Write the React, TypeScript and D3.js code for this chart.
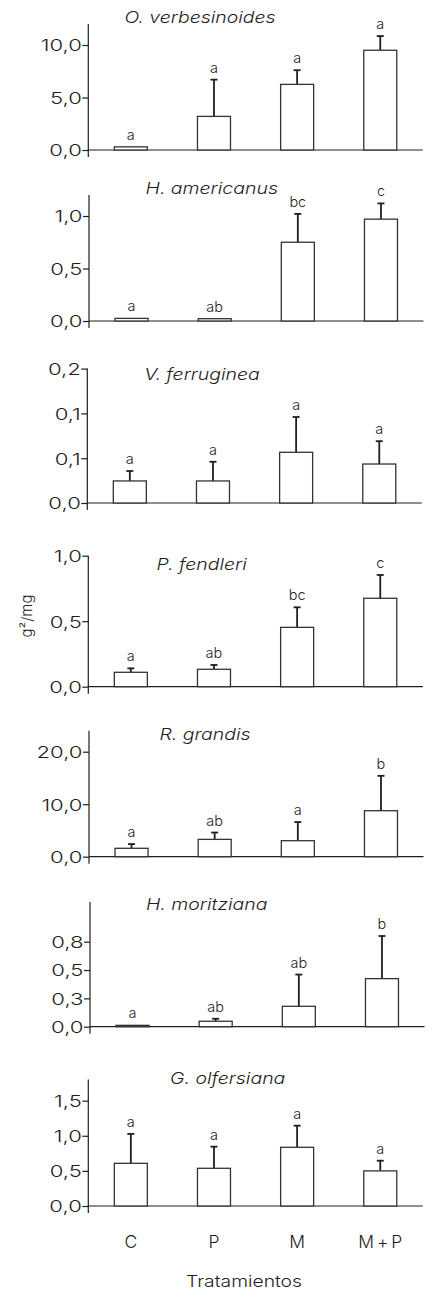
import React, { useEffect, useRef } from "react";
import * as d3 from "d3";

// ---- data ----
const treatments = ["C", "P", "M", "M+P"];
const species = [
  "O. verbesinoides",
  "H. americanus",
  "V. ferruginea",
  "P. fendleri",
  "R. grandis",
  "H. moritziana",
  "G. olfersiana",
];

const meanVerbesinoides = [0.3, 3.2, 6.25, 9.5];
const seVerbesinoides = [0, 3.5, 1.35, 1.35];
const meanAmericanus = [0.025, 0.022, 0.75, 0.97];
const seAmericanus = [0, 0, 0.27, 0.15];
const meanFerruginea = [0.0246, 0.0246, 0.0566, 0.0435];
const seFerruginea = [0.0111, 0.0214, 0.0394, 0.0255];
const meanFendleri = [0.11, 0.133, 0.453, 0.675];
const seFendleri = [0.03, 0.033, 0.153, 0.178];
const meanGrandis = [1.6, 3.3, 3.05, 8.76];
const seGrandis = [0.8, 1.3, 3.55, 6.64];
const meanMoritziana = [0.012, 0.048, 0.18, 0.424];
const seMoritziana = [0, 0.022, 0.28, 0.376];
const meanOlfersiana = [0.608, 0.537, 0.836, 0.5];
const seOlfersiana = [0.418, 0.308, 0.308, 0.145];

const letters = [
  ["a", "a", "a", "a"],
  ["a", "ab", "bc", "c"],
  ["a", "a", "a", "a"],
  ["a", "ab", "bc", "c"],
  ["a", "ab", "a", "b"],
  ["a", "ab", "ab", "b"],
  ["a", "a", "a", "a"],
];

const yMax = [12, 1.2, 0.15, 1.0, 24, 1.1, 1.8];
const tickValues = [
  [0, 5, 10],
  [0, 0.5, 1],
  [0, 0.05, 0.1, 0.15],
  [0, 0.5, 1],
  [0, 10, 20],
  [0, 0.25, 0.5, 0.75],
  [0, 0.5, 1, 1.5],
];
const tickLabels = [
  ["0,0", "5,0", "10,0"],
  ["0,0", "0,5", "1,0"],
  ["0,0", "0,1", "0,1", "0,2"],
  ["0,0", "0,5", "1,0"],
  ["0,0", "10,0", "20,0"],
  ["0,0", "0,3", "0,5", "0,8"],
  ["0,0", "0,5", "1,0", "1,5"],
];

const means = [meanVerbesinoides, meanAmericanus, meanFerruginea, meanFendleri, meanGrandis, meanMoritziana, meanOlfersiana];
const errors = [seVerbesinoides, seAmericanus, seFerruginea, seFendleri, seGrandis, seMoritziana, seOlfersiana];

// ---- layout (pixels) ----
const W = 432;
const H = 1291;
const panelBase = [150, 321, 503, 686.7, 856.7, 1026.7, 1206];
const panelTop = [24, 195, 368.6, 555.7, 730.7, 902, 1079.6];
const panelX0 = [88.3, 89, 87.3, 88.3, 89, 90, 88.3];
const titleX = [200, 211.7, 202, 201.7, 205, 206.7, 227.7];
const titleY = [23, 194, 380, 570, 740, 910, 1084];
const axisLen = 334.5;

const font = "Inter, 'Liberation Sans', sans-serif";
const ink = "#1e1e1e";

const App = () => {
  const svgRef = useRef<SVGSVGElement>(null);

  useEffect(() => {
    const svg = d3.select(svgRef.current);
    svg.selectAll("*").remove();

    species.forEach((name, i) => {
      const x0 = panelX0[i];
      const base = panelBase[i];
      const g = svg.append("g");

      const x = d3.scaleBand()
        .domain(treatments)
        .range([x0, x0 + axisLen])
        .paddingInner(0.603)
        .paddingOuter(0.313);

      const y = d3.scaleLinear()
        .domain([0, yMax[i]])
        .range([base, panelTop[i]]);

      // left axis ticks + labels
      const axis = d3.axisLeft(y)
        .tickValues(tickValues[i])
        .tickFormat((_, k) => tickLabels[i][k])
        .tickSize(6)
        .tickPadding(1);
      const ag = g.append("g").attr("transform", `translate(${x0},0)`).call(axis);
      ag.select(".domain").remove();
      ag.selectAll(".tick line").attr("stroke", ink).attr("stroke-width", 1.2);
      ag.selectAll(".tick text")
        .attr("x", 0)
        .attr("transform", "translate(-6.5,0) scale(1.34,1)")
        .attr("fill", ink)
        .style("font-family", font)
        .style("font-weight", 300)
        .style("font-size", "16.5px")
        .attr("dy", "0.36em");

      // axis lines
      g.append("line")
        .attr("x1", x0).attr("x2", x0)
        .attr("y1", panelTop[i]).attr("y2", base + 7)
        .attr("stroke", ink).attr("stroke-width", 1.2);
      g.append("line")
        .attr("x1", x0).attr("x2", x0 + axisLen)
        .attr("y1", base).attr("y2", base)
        .attr("stroke", ink).attr("stroke-width", 1.2);

      const rows = treatments.map((t, k) => ({
        t, m: means[i][k], e: errors[i][k], l: letters[i][k],
      }));

      // error bars (upper only)
      const eb = g.selectAll(".err").data(rows.filter(d => d.e > 0)).enter().append("g");
      eb.append("line")
        .attr("x1", d => x(d.t)! + x.bandwidth() / 2)
        .attr("x2", d => x(d.t)! + x.bandwidth() / 2)
        .attr("y1", d => y(d.m))
        .attr("y2", d => y(d.m + d.e))
        .attr("stroke", ink).attr("stroke-width", 1.8);
      eb.append("line")
        .attr("x1", d => x(d.t)! + x.bandwidth() / 2 - 3.5)
        .attr("x2", d => x(d.t)! + x.bandwidth() / 2 + 3.5)
        .attr("y1", d => y(d.m + d.e))
        .attr("y2", d => y(d.m + d.e))
        .attr("stroke", ink).attr("stroke-width", 1.8);

      // bars
      g.selectAll(".bar").data(rows).enter().append("rect")
        .attr("x", d => x(d.t)!)
        .attr("y", d => y(d.m))
        .attr("width", x.bandwidth())
        .attr("height", d => base - y(d.m))
        .attr("fill", "#fff")
        .attr("stroke", "#333")
        .attr("stroke-width", 1.3);

      // significance letters
      g.selectAll(".lett").data(rows).enter().append("text")
        .attr("x", d => x(d.t)! + x.bandwidth() / 2)
        .attr("y", d => y(d.m + d.e) - 7)
        .attr("text-anchor", "middle")
        .attr("fill", ink)
        .style("font-family", font)
        .style("font-weight", 300)
        .style("font-size", "14.5px")
        .text(d => d.l);

      // species title
      g.append("text")
        .attr("transform", `translate(${titleX[i]},${titleY[i]}) scale(1.18,1)`)
        .attr("text-anchor", "middle")
        .attr("fill", ink)
        .style("font-family", font)
        .style("font-weight", 300)
        .style("font-size", "16.5px")
        .style("font-style", "italic")
        .text(name);

      // treatment labels under last panel
      if (i === species.length - 1) {
        g.selectAll(".xl").data(treatments).enter().append("text")
          .attr("x", d => x(d)! + x.bandwidth() / 2 + (d.length > 1 ? 1.5 : 0))
          .attr("y", 1248)
          .attr("text-anchor", "middle")
          .attr("fill", ink)
          .style("font-family", font)
          .style("font-weight", 300)
          .style("font-size", "17.5px")
          .style("letter-spacing", d => (d.length > 1 ? "3px" : "0px"))
          .text(d => d);
      }
    });

    // y-axis title
    svg.append("text")
      .attr("transform", "translate(31.5,616) rotate(-90)")
      .attr("text-anchor", "middle")
      .attr("fill", ink)
      .style("font-family", font)
      .style("font-weight", 300)
      .style("font-size", "15px")
      .text("g²/mg");

    // x-axis title
    svg.append("text")
      .attr("transform", `translate(244,1287) scale(1.17,1)`)
      .attr("text-anchor", "middle")
      .attr("fill", ink)
      .style("font-family", font)
      .style("font-weight", 300)
      .style("font-size", "16.5px")
      .text("Tratamientos");
  }, []);

  return (
    <svg
      ref={svgRef}
      width={W}
      height={H}
      style={{ position: "absolute", left: 0, top: 0, background: "#fff" }}
    />
  );
};

export default App;
